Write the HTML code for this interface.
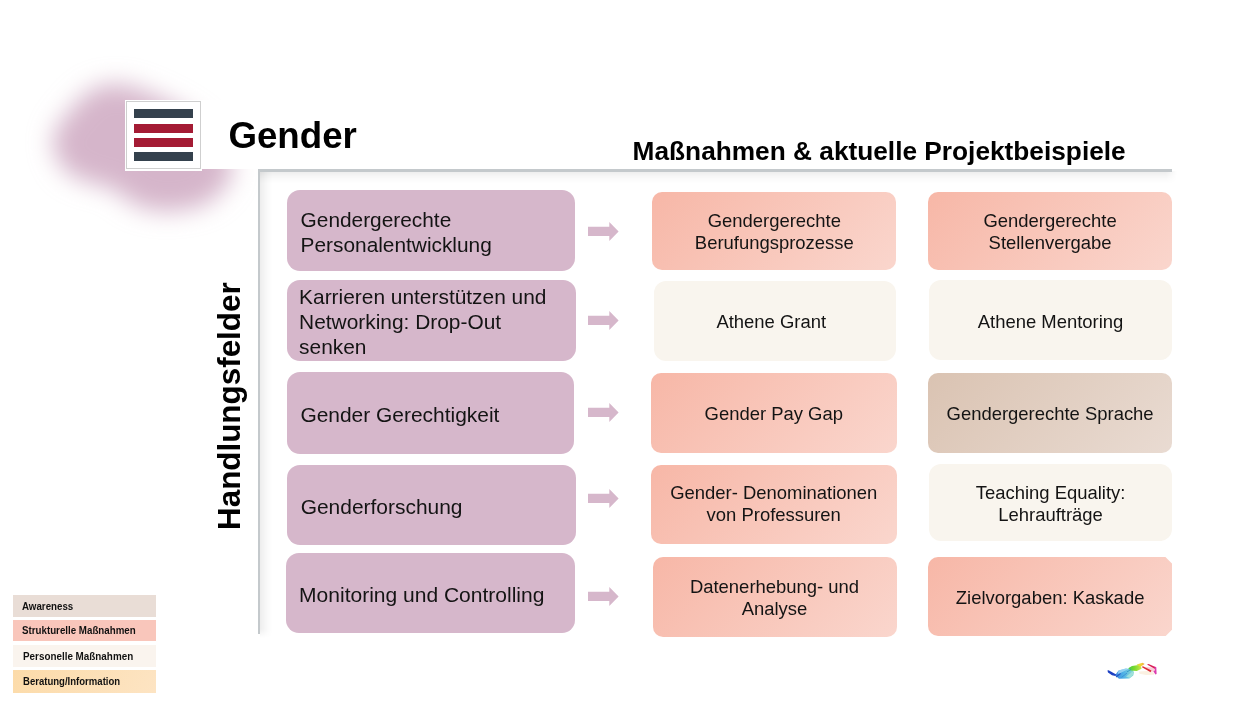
<!DOCTYPE html>
<html lang="de">
<head>
<meta charset="utf-8">
<title>Gender</title>
<style>
html,body{margin:0;padding:0;}
body{width:1260px;height:709px;position:relative;overflow:hidden;background:#fff;
 font-family:"Liberation Sans",sans-serif;color:#111;}
.abs{position:absolute;}
#stage{position:absolute;left:0;top:0;width:1260px;height:709px;will-change:transform;}
#blob{left:0;top:0;width:320px;height:300px;}
#titlebg{left:202px;top:100px;width:1000px;height:69.3px;background:#fff;}
#framebg{left:259px;top:170px;width:960px;height:480px;background:#fff;}
#logo{left:125px;top:100px;width:77px;height:71px;background:#fff;}
#logo .bd{position:absolute;left:1px;top:1px;right:1px;bottom:2px;border:1px solid #cfcfcf;}
#logo i{position:absolute;left:9px;width:59px;height:9px;display:block;}
#title{left:228.4px;top:115.2px;font-size:36.7px;font-weight:bold;line-height:41px;white-space:nowrap;color:#000;}
#sub{left:632.6px;top:136.2px;font-size:26.25px;font-weight:bold;line-height:30px;white-space:nowrap;color:#000;}
#hline{left:258.3px;top:169.4px;width:913.7px;height:2.4px;background:#c4c9cc;}
#hsh{left:259.5px;top:170.8px;width:918.5px;height:12px;-webkit-mask-image:linear-gradient(to right,#000 906px,transparent 917px);mask-image:linear-gradient(to right,#000 906px,transparent 917px);
 background:linear-gradient(to bottom,rgba(0,0,0,.075),rgba(0,0,0,.03) 45%,rgba(0,0,0,0));}
#vline{left:258.3px;top:169.5px;width:2px;height:464.5px;background:#c4c9cc;}
#vsh{left:259.5px;top:170.5px;width:12px;height:468px;-webkit-mask-image:linear-gradient(to bottom,#000 458px,transparent 467px);mask-image:linear-gradient(to bottom,#000 458px,transparent 467px);
 background:linear-gradient(to right,rgba(0,0,0,.07),rgba(0,0,0,.03) 45%,rgba(0,0,0,0));}
#hf{left:130px;top:413.3px;width:200px;height:34px;line-height:34px;text-align:center;
 font-size:31.4px;font-weight:bold;white-space:nowrap;transform:rotate(-90deg);transform-origin:50% 50%;color:#000;}
.p{position:absolute;background:#d6b7cb;border-radius:13px;box-sizing:border-box;
 font-size:21px;line-height:25.2px;padding-left:13.6px;padding-top:2px;display:flex;align-items:center;color:#141414;}
.p span{display:block;white-space:nowrap;}
.a{position:absolute;left:588px;width:31px;height:19px;}
.b{position:absolute;border-radius:10px;box-sizing:border-box;display:flex;align-items:center;justify-content:center;
 text-align:center;font-size:18.45px;line-height:22.1px;color:#141414;padding-top:2.6px;}
.b span{display:block;white-space:nowrap;}
.s{background:linear-gradient(135deg,#f7b7a7 0%,#fad6cd 100%);}
.c{background:#f9f5ee;border-radius:12px;}
.t{background:linear-gradient(135deg,#dac3b2 0%,#e9dbd2 100%);}
.l{position:absolute;left:13px;width:143px;box-sizing:border-box;}
.l span{position:absolute;left:9px;top:0;white-space:nowrap;font-weight:bold;font-size:11.8px;
 transform:scaleX(.826);transform-origin:0 50%;color:#111;}
</style>
</head>
<body>
<div id="stage">
<svg id="blob" class="abs" viewBox="0 0 320 300">
 <defs><filter id="bl" filterUnits="userSpaceOnUse" x="0" y="0" width="320" height="300"><feGaussianBlur stdDeviation="12.5"/></filter></defs>
 <path d="M52 141 Q58 122 67 115 Q80 96 94 89 Q110 82 126 85 Q150 92 168 102 Q190 112 205 127 Q226 146 232 163 Q234 174 228 183 Q216 199 203 205 Q182 212 160 211 Q146 209 136 205 Q124 198 114 189 Q104 186 96 184 Q78 180 67 172 Q56 162 52 141 Z" fill="#d5b5ca" filter="url(#bl)"/>
</svg>
<div id="titlebg" class="abs"></div>
<div id="framebg" class="abs"></div>
<div id="logo" class="abs"><div class="bd"></div>
 <i style="top:9px;background:#34414d"></i><i style="top:23.7px;background:#a41b34"></i>
 <i style="top:38px;background:#a41b34"></i><i style="top:52.4px;background:#34414d"></i>
</div>
<div id="title" class="abs">Gender</div>
<div id="sub" class="abs">Maßnahmen &amp; aktuelle Projektbeispiele</div>
<div id="hsh" class="abs"></div>
<div id="vsh" class="abs"></div>
<div id="hline" class="abs"></div>
<div id="vline" class="abs"></div>
<div id="hf" class="abs">Handlungsfelder</div>

<div class="p" style="left:287px;top:190px;width:288.3px;height:80.7px;padding-left:13.6px;font-size:20.85px;padding-top:3.4px;"><div><span>Gendergerechte</span><span>Personalentwicklung</span></div></div>
<div class="p" style="left:287px;top:280px;width:288.5px;height:80.5px;padding-left:12.1px;padding-top:2.8px;font-size:20.9px;"><div><span>Karrieren unterstützen und</span><span>Networking: Drop-Out</span><span>senken</span></div></div>
<div class="p" style="left:287px;top:371.5px;width:286.5px;height:82.5px;padding-left:13.4px;font-size:20.95px;padding-top:3px;"><div><span>Gender Gerechtigkeit</span></div></div>
<div class="p" style="left:287px;top:465px;width:288.5px;height:79.7px;padding-left:13.7px;font-size:20.95px;padding-top:4px;"><div><span>Genderforschung</span></div></div>
<div class="p" style="left:286.2px;top:553px;width:289.3px;height:79.7px;padding-left:12.9px;font-size:21.03px;padding-top:4.4px;"><div><span>Monitoring und Controlling</span></div></div>

<svg class="a" style="top:221.6px" viewBox="0 0 31 19"><path d="M0 4.8H21.3V0L30.6 9.5L21.3 19V14H0Z" fill="#d6b7cb"/></svg>
<svg class="a" style="top:310.9px" viewBox="0 0 31 19"><path d="M0 4.8H21.3V0L30.6 9.5L21.3 19V14H0Z" fill="#d6b7cb"/></svg>
<svg class="a" style="top:402.5px" viewBox="0 0 31 19"><path d="M0 4.8H21.3V0L30.6 9.5L21.3 19V14H0Z" fill="#d6b7cb"/></svg>
<svg class="a" style="top:489px" viewBox="0 0 31 19"><path d="M0 4.8H21.3V0L30.6 9.5L21.3 19V14H0Z" fill="#d6b7cb"/></svg>
<svg class="a" style="top:587.2px" viewBox="0 0 31 19"><path d="M0 4.8H21.3V0L30.6 9.5L21.3 19V14H0Z" fill="#d6b7cb"/></svg>

<div class="b s" style="left:652.3px;top:191.5px;width:244px;height:78.5px;"><div><span>Gendergerechte</span><span>Berufungsprozesse</span></div></div>
<div class="b s" style="left:928px;top:191.5px;width:244.2px;height:78.5px;"><div><span>Gendergerechte</span><span>Stellenvergabe</span></div></div>
<div class="b c" style="left:653.5px;top:281px;width:242.5px;height:79.5px;padding-right:7px;"><div><span>Athene Grant</span></div></div>
<div class="b c" style="left:929px;top:280.3px;width:243.2px;height:80.2px;"><div><span>Athene Mentoring</span></div></div>
<div class="b s" style="left:651px;top:373px;width:245.5px;height:79.6px;"><div><span>Gender Pay Gap</span></div></div>
<div class="b t" style="left:928px;top:373px;width:244.2px;height:80.4px;"><div><span>Gendergerechte Sprache</span></div></div>
<div class="b s" style="left:651px;top:464.8px;width:245.5px;height:79.4px;padding-top:0;"><div><span>Gender- Denominationen</span><span>von Professuren</span></div></div>
<div class="b c" style="left:929px;top:464.2px;width:243.2px;height:76.8px;"><div><span>Teaching Equality:</span><span>Lehraufträge</span></div></div>
<div class="b s" style="left:652.5px;top:556.8px;width:244px;height:79.8px;"><div><span>Datenerhebung- und</span><span>Analyse</span></div></div>
<div class="b s" style="left:928px;top:556.8px;width:244.2px;height:79.6px;border-radius:10px 0 0 10px;clip-path:polygon(0 0,calc(100% - 7px) 0,100% 7px,100% calc(100% - 7px),calc(100% - 7px) 100%,0 100%);"><div><span>Zielvorgaben: Kaskade</span></div></div>

<div class="l" style="top:595.2px;height:21.6px;line-height:22.5px;background:#e9ddd6;"><span>Awareness</span></div>
<div class="l" style="top:619.7px;height:21.1px;line-height:20.5px;background:#f9c6bb;"><span>Strukturelle Maßnahmen</span></div>
<div class="l" style="top:644.5px;height:22px;line-height:23.5px;background:#faf4ee;"><span style="left:10px;transform:scaleX(.836)">Personelle Maßnahmen</span></div>
<div class="l" style="top:669.6px;height:23.2px;line-height:23px;background:linear-gradient(120deg,#fcdba9,#fde4c3);"><span style="left:10px;transform:scaleX(.81)">Beratung/Information</span></div>

<svg class="abs" style="left:1100px;top:655px;width:64px;height:30px" viewBox="1100 655 64 30">
 <defs>
  <filter id="sb" x="-10%" y="-30%" width="120%" height="160%"><feGaussianBlur stdDeviation="0.55"/></filter>
  <linearGradient id="g1" x1="1115" y1="0" x2="1134" y2="0" gradientUnits="userSpaceOnUse">
   <stop offset="0" stop-color="#3b86de"/><stop offset=".45" stop-color="#4fb2e6"/><stop offset="1" stop-color="#8fdcd2"/></linearGradient>
  <linearGradient id="g2" x1="1128" y1="0" x2="1141" y2="0" gradientUnits="userSpaceOnUse">
   <stop offset="0" stop-color="#3fc84a"/><stop offset=".5" stop-color="#7bd92e"/><stop offset="1" stop-color="#c8e646"/></linearGradient>
  <linearGradient id="g3" x1="1137" y1="0" x2="1145" y2="0" gradientUnits="userSpaceOnUse">
   <stop offset="0" stop-color="#dfe23a"/><stop offset=".6" stop-color="#f3cf37"/><stop offset="1" stop-color="#e98a3a"/></linearGradient>
 </defs>
 <g filter="url(#sb)">
  <path d="M1139 671.6 L1147 671 L1154.8 672.8 L1154 674.8 L1146 675 L1139.5 673.8Z" fill="#fbf1e2"/>
  <path d="M1145 667 L1154 667.5 L1155.5 671.5 L1150 671.8Z" fill="#f9ccd6"/>
  <path d="M1115 675.2 L1118.6 670.4 L1126 668.4 L1132.8 669.4 L1134 672.5 L1133.2 675.6 L1129.4 678.6 L1119 678.8Z" fill="url(#g1)"/>
  <path d="M1128.2 668.2 L1132 666 L1140.2 664.8 L1141.6 668.8 L1136.8 670.9 L1130.6 670.4Z" fill="url(#g2)"/>
  <path d="M1136.6 664.6 L1142.6 662.8 L1144.6 663.9 L1140.4 666.8Z" fill="url(#g3)"/>
  <path d="M1107.4 670.6 L1108.6 670.2 L1116.2 674.4 L1115.4 676 L1112 675.2 L1108 672.4Z" fill="#1b3fc2"/>
  <path d="M1116 677 L1120.5 673.5" stroke="#2456c8" stroke-width="1.1" fill="none"/>
  <path d="M1121.5 677.4 L1127 673" stroke="#3a8fd4" stroke-width=".9" fill="none"/>
  <path d="M1127 671.8 L1131 669.6" stroke="#2f8fc0" stroke-width=".8" fill="none"/>
  <path d="M1141.6 667 L1143 666.2 L1151.4 670.6 L1150.6 672.3Z" fill="#dc2c34"/>
  <path d="M1147 664.6 L1148.6 663.9 L1156 667.2 L1156 669.4Z" fill="#d81f56"/>
  <path d="M1154.6 666.6 L1156.3 667.2 L1156.6 673.9 L1155.4 674.6 L1153.4 671.2 L1154.9 670.4Z" fill="#dc3cb0"/>
  <path d="M1118.6 670.6 L1125.6 668.6 L1128 669.2 L1121.4 672.6 L1117.6 674Z" fill="#a9def5" opacity=".75"/>
  <path d="M1126 676.6 L1132.6 671.4 L1133.8 674 L1130 678Z" fill="#a6e4dc" opacity=".8"/>
 </g>
</svg>
</div>
</body>
</html>
